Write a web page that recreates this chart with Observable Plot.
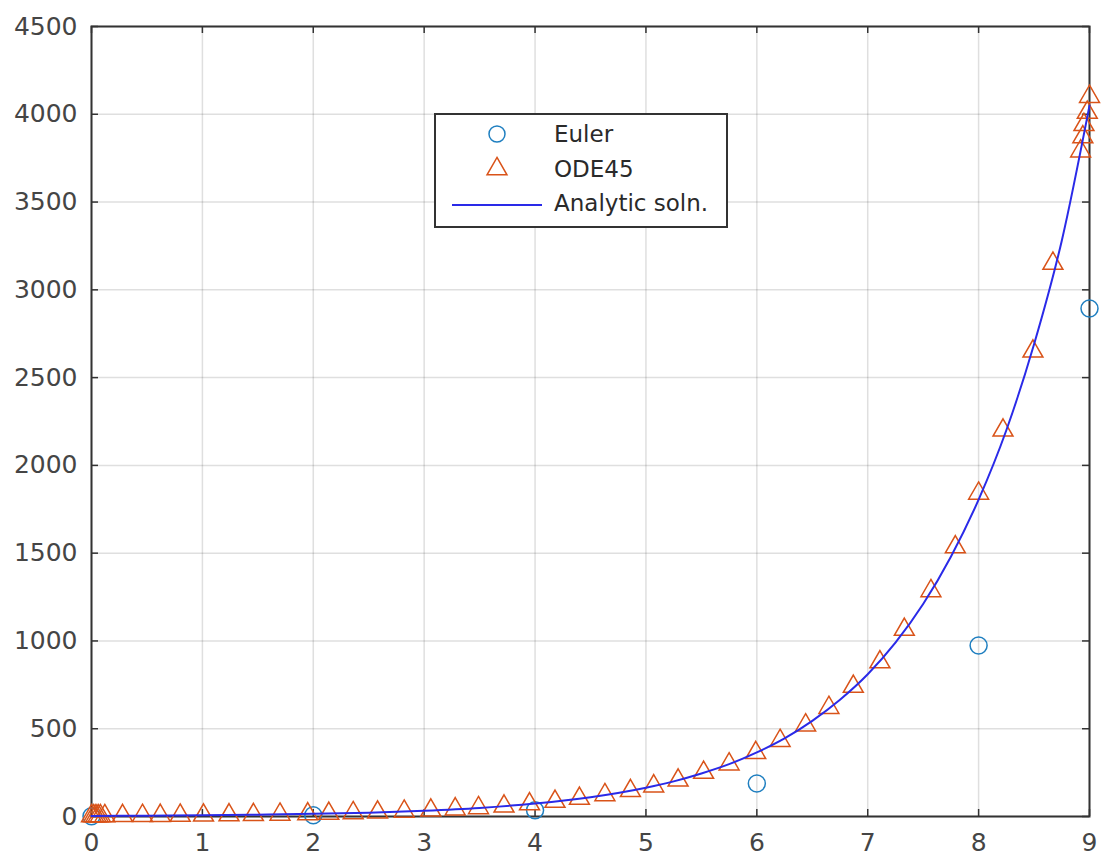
<!DOCTYPE html>
<html>
<head>
<meta charset="utf-8">
<script src="https://cdn.jsdelivr.net/npm/d3@7"></script>
<script src="https://cdn.jsdelivr.net/npm/@observablehq/plot@0.6"></script>
<style>
  body { margin: 0; background: #fff; }
  #wrap { position: relative; width: 1102px; height: 858px; overflow: hidden; background: #fff; }
  #legend { position: absolute; left: 434px; top: 113px; }
  #legend text { font-family: 'DejaVu Sans', sans-serif; font-size: 23px; fill: #2a2a2a; }
</style>
</head>
<body>
<div id="wrap"></div>
<script>
// ---- data ----
const xTicks = [0, 1, 2, 3, 4, 5, 6, 7, 8, 9];
const yTicks = [0, 500, 1000, 1500, 2000, 2500, 3000, 3500, 4000, 4500];

const eulerT = [0, 2, 4, 6, 8, 9];
const eulerY = [1.4, 7, 36, 188, 974, 2894];

const odeT = [0, 0.02, 0.04, 0.06, 0.08, 0.12, 0.28, 0.46, 0.62, 0.80, 1.01, 1.24, 1.46, 1.70, 1.95,
  2.14, 2.36, 2.58, 2.82, 3.06, 3.28, 3.49, 3.72, 3.95, 4.18, 4.40, 4.63, 4.86, 5.07, 5.29, 5.52,
  5.75, 5.99, 6.21, 6.44, 6.65, 6.87, 7.11, 7.33, 7.57, 7.79, 8.00, 8.22, 8.49, 8.67, 8.92, 8.94,
  8.95, 8.98, 9.00];
const odeY = [3, 3.1, 3.2, 3.2, 3.3, 3.5, 3.8, 4.4, 5, 5.7, 6.7, 8, 9.7, 12, 14,
  17, 20, 24, 29, 35, 42, 49, 58, 71, 85, 102, 123, 146, 173, 206, 250,
  298, 363, 432, 520, 620, 740, 880, 1065, 1285, 1535, 1840, 2200, 2650, 3150, 3790, 3870,
  3940, 4010, 4100];

const analyticT = [0, 0.5, 1, 1.5, 2, 2.5, 3, 3.5, 4, 4.5, 5, 5.25, 5.5, 5.75, 6, 6.25, 6.5, 6.75,
  7, 7.25, 7.5, 7.75, 8, 8.25, 8.5, 8.75, 9];
const analyticY = [3, 4.5, 6.7, 10, 15, 22, 33, 49, 74, 110, 164, 200, 245, 298, 365, 445, 545, 665,
  810, 990, 1210, 1480, 1805, 2200, 2690, 3280, 4050];

const euler = eulerT.map((t, i) => ({t, y: eulerY[i]}));
const ode = odeT.map((t, i) => ({t, y: odeY[i]}));
const analytic = analyticT.map((t, i) => ({t, y: analyticY[i]}));

// ---- layout ----
const W = 1102, H = 858, mL = 91, mR = 13, mT = 26, mB = 42;
const pw = W - mL - mR, ph = H - mT - mB;
const axisColor = "#333333";
const labelColor = "#454545";

const chart = Plot.plot({
  width: W, height: H,
  marginLeft: mL, marginRight: mR, marginTop: mT, marginBottom: mB,
  x: {domain: [0, 9]},
  y: {domain: [0, 4500]},
  style: {fontFamily: "'DejaVu Sans', sans-serif", background: "white", overflow: "visible"},
  marks: [
    Plot.gridX(xTicks, {stroke: "#262626", strokeOpacity: 0.15, strokeWidth: 1.5}),
    Plot.gridY(yTicks, {stroke: "#262626", strokeOpacity: 0.15, strokeWidth: 1.5}),
    Plot.frame({stroke: axisColor, strokeWidth: 2}),
    Plot.tickX(xTicks, {x: d => d, insetTop: ph - 7, stroke: axisColor, strokeWidth: 1.5}),
    Plot.tickX(xTicks, {x: d => d, insetBottom: ph - 7, stroke: axisColor, strokeWidth: 1.5}),
    Plot.tickY(yTicks, {y: d => d, insetRight: pw - 7, stroke: axisColor, strokeWidth: 1.5}),
    Plot.tickY(yTicks, {y: d => d, insetLeft: pw - 7, stroke: axisColor, strokeWidth: 1.5}),
    Plot.axisX(xTicks, {tickSize: 0, tickPadding: 17, fontSize: 25, fill: labelColor, label: null, tickFormat: d => String(d)}),
    Plot.axisY(yTicks, {tickSize: 0, tickPadding: 14, fontSize: 25, fill: labelColor, label: null, tickFormat: d => String(d)}),
    Plot.dot(euler, {x: "t", y: "y", r: 8.5, stroke: "#1f7fc0", strokeWidth: 1.5, fill: "none"}),
    Plot.dot(ode, {x: "t", y: "y", symbol: "triangle", r: 7.4, stroke: "#D95319", strokeWidth: 1.5, fill: "none"}),
    Plot.line(analytic, {x: "t", y: "y", curve: "monotone-x", stroke: "#2a2ae8", strokeWidth: 2})
  ]
});
const wrap = document.getElementById("wrap");
wrap.appendChild(chart);

// ---- legend (inside the axes, like the reference) ----
const ns = "http://www.w3.org/2000/svg";
const leg = document.createElementNS(ns, "svg");
leg.setAttribute("id", "legend");
leg.setAttribute("width", 294);
leg.setAttribute("height", 115);
const tri = d3.symbol(d3.symbolTriangle, 7.4 * 7.4 * Math.PI)();
leg.innerHTML = `
  <rect x="1" y="1" width="292" height="113" fill="white" stroke="${axisColor}" stroke-width="2"/>
  <circle cx="63" cy="21" r="8" fill="none" stroke="#1f7fc0" stroke-width="1.5"/>
  <path d="${tri}" transform="translate(63,56)" fill="none" stroke="#D95319" stroke-width="1.5"/>
  <line x1="18" x2="108" y1="92" y2="92" stroke="#2a2ae8" stroke-width="2"/>
  <text x="120" y="21" dy="0.36em">Euler</text>
  <text x="120" y="56" dy="0.36em">ODE45</text>
  <text x="120" y="90" dy="0.36em">Analytic soln.</text>
`;
wrap.appendChild(leg);
</script>
</body>
</html>
